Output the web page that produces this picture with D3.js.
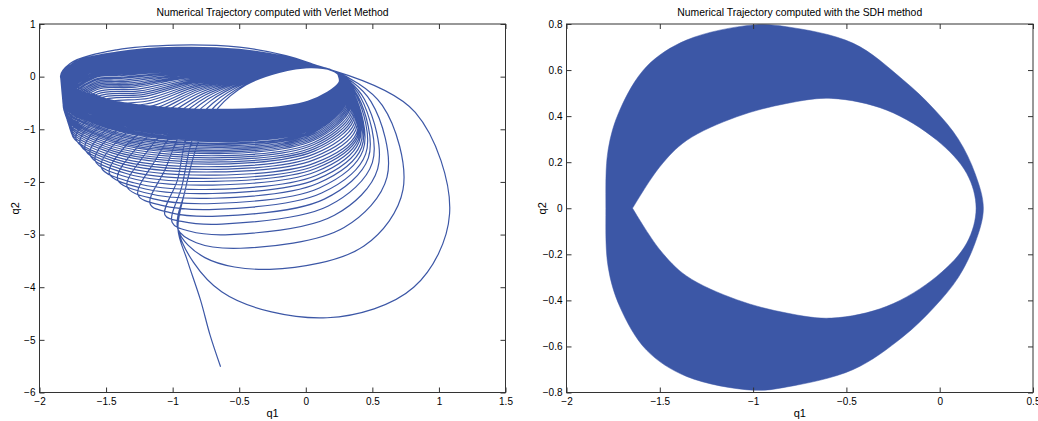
<!DOCTYPE html>
<html>
<head>
<meta charset="utf-8">
<script src="https://cdn.jsdelivr.net/npm/d3@7/dist/d3.min.js"></script>
<style>
  body { margin: 0; background: #fff; }
  svg text { font-family: "Liberation Sans", Arial, Helvetica, sans-serif; fill: #000; }
</style>
</head>
<body>
<svg id="chart" width="1038" height="421"></svg>
<script>
// ---------- values ----------
var verletTitle = "Numerical Trajectory computed with Verlet Method";
var sdhTitle = "Numerical Trajectory computed with the SDH method";
var verletXTicks = [-2, -1.5, -1, -0.5, 0, 0.5, 1, 1.5];
var verletYTicks = [-6, -5, -4, -3, -2, -1, 0, 1];
var sdhXTicks = [-2, -1.5, -1, -0.5, 0, 0.5];
var sdhYTicks = [-0.8, -0.6, -0.4, -0.2, 0, 0.2, 0.4, 0.6, 0.8];

// Verlet: the loose end of the trajectory (bottom)
var tailQ1 = [-0.64, -0.72, -0.79, -0.89];
var tailQ2 = [-5.51, -4.90, -4.25, -3.49];
// left envelope of the loops, from the left tip down to the crossing point
var envQ1 = [-1.84, -1.82, -1.76, -1.54, -1.29, -1.04, -0.96];
var envQ2 = [-0.03, -0.60, -1.08, -1.71, -2.19, -2.66, -2.90];
// upper arcs: outer edge of the band, a flat middle one, and the edge of the white hole
var highArcQ1 = [-1.42, -0.97, -0.50, -0.15, 0.05];
var highArcQ2 = [0.51, 0.60, 0.56, 0.40, 0.24];
var midArcQ1 = [-1.40, -0.95, -0.50, -0.18, 0.05];
var midArcQ2 = [0.05, 0.12, 0.10, 0.19, 0.21];
var holeArcQ1 = [-0.80, -0.66, -0.45, -0.20, 0.03];
var holeArcQ2 = [-1.20, -0.60, -0.16, 0.08, 0.17];

// one entry per loop, biggest loop first
var loopBottom = [-4.58, -3.66, -3.26, -3.00, -2.80, -2.65, -2.52, -2.41, -2.31, -2.22,
  -2.14, -2.06, -1.99, -1.93, -1.87, -1.81, -1.76, -1.71, -1.66, -1.62,
  -1.58, -1.54, -1.50, -1.46, -1.43, -1.40, -1.37, -1.34, -1.31, -1.28,
  -1.26, -1.23, -1.21, -1.19, -1.17, -1.15, -1.13, -1.11, -1.09, -1.07,
  -1.05, -1.04, -1.03, -1.02, -1.01, -1.00, -0.99, -0.98, -0.97, -0.96,
  -0.95, -0.94, -0.93, -0.92, -0.91, -0.90, -0.89, -0.88, -0.87, -0.86,
  -0.85, -0.84, -0.83, -0.82, -0.81, -0.80, -0.79, -0.78, -0.77, -0.76,
  -0.75, -0.74, -0.73, -0.72, -0.71, -0.70, -0.695, -0.69, -0.685, -0.68,
  -0.675, -0.67, -0.665, -0.66, -0.655, -0.65, -0.645, -0.64, -0.64, -0.635,
  -0.635, -0.63, -0.63, -0.625, -0.625, -0.62, -0.62, -0.62, -0.62, -0.62];
var loopBottomQ1 = [0.16, -0.27, -0.49, -0.57, -0.63, -0.66, -0.68, -0.69, -0.70, -0.70,
  -0.70, -0.70, -0.69, -0.69, -0.68, -0.68, -0.67, -0.66, -0.65, -0.64,
  -0.63, -0.62, -0.61, -0.60, -0.59, -0.58, -0.57, -0.56, -0.55, -0.54,
  -0.53, -0.52, -0.51, -0.50, -0.50, -0.49, -0.49, -0.48, -0.48, -0.47,
  -0.47, -0.47, -0.47, -0.47, -0.47, -0.47, -0.47, -0.47, -0.47, -0.47,
  -0.48, -0.48, -0.48, -0.48, -0.48, -0.48, -0.48, -0.48, -0.48, -0.48,
  -0.50, -0.50, -0.50, -0.50, -0.50, -0.50, -0.50, -0.50, -0.50, -0.50,
  -0.52, -0.52, -0.52, -0.52, -0.52, -0.52, -0.52, -0.52, -0.52, -0.52,
  -0.54, -0.54, -0.54, -0.54, -0.54, -0.54, -0.54, -0.54, -0.54, -0.54,
  -0.55, -0.55, -0.55, -0.55, -0.55, -0.55, -0.55, -0.55, -0.55, -0.55];
var loopRight = [1.08, 0.73, 0.61, 0.54, 0.50, 0.47, 0.45, 0.43, 0.42, 0.41,
  0.40, 0.395, 0.39, 0.385, 0.38, 0.375, 0.37, 0.365, 0.36, 0.355,
  0.35, 0.345, 0.34, 0.335, 0.33, 0.325, 0.32, 0.315, 0.31, 0.31,
  0.305, 0.305, 0.30, 0.30, 0.295, 0.295, 0.29, 0.29, 0.285, 0.285,
  0.28, 0.28, 0.28, 0.28, 0.275, 0.275, 0.275, 0.275, 0.27, 0.27,
  0.27, 0.27, 0.27, 0.27, 0.265, 0.265, 0.265, 0.265, 0.265, 0.265,
  0.26, 0.26, 0.26, 0.26, 0.26, 0.26, 0.26, 0.26, 0.26, 0.26,
  0.255, 0.255, 0.255, 0.255, 0.255, 0.255, 0.255, 0.255, 0.255, 0.255,
  0.25, 0.25, 0.25, 0.25, 0.25, 0.25, 0.25, 0.25, 0.25, 0.25,
  0.25, 0.25, 0.25, 0.25, 0.25, 0.25, 0.25, 0.25, 0.25, 0.25];

// SDH: outer boundary and inner "eye" of the filled band
var sdhOuterQ1 = [-1.789, -1.777, -1.714, -1.571, -1.357, -1.0, -0.82, -0.463, -0.2, -0.03, 0.10, 0.19, 0.234,
  0.19, 0.10, -0.03, -0.2, -0.463, -0.82, -1.0, -1.357, -1.571, -1.714, -1.777];
var sdhOuterQ2 = [0, 0.253, 0.427, 0.615, 0.73, 0.796, 0.788, 0.716, 0.56, 0.43, 0.30, 0.15, 0,
  -0.15, -0.30, -0.43, -0.56, -0.70, -0.776, -0.79, -0.73, -0.616, -0.428, -0.254];
var sdhInnerQ1 = [-1.646, -1.5, -1.357, -1.088, -0.82, -0.579, -0.284, -0.016, 0.145, 0.195,
  0.145, -0.016, -0.284, -0.579, -0.82, -1.088, -1.357, -1.5, -1.646];
var sdhInnerQ2 = [0, 0.18, 0.294, 0.397, 0.455, 0.477, 0.426, 0.296, 0.151, 0,
  -0.151, -0.296, -0.426, -0.477, -0.455, -0.397, -0.294, -0.18, 0];

var blue = "#3c57a6";
var svg = d3.select("#chart");

function drawFrame(g, x, y, xTicks, yTicks, title) {
  var x0 = x.range()[0], x1 = x.range()[1], y0 = y.range()[1], y1 = y.range()[0];
  var fmt = d3.format("~g");
  g.append("g").attr("transform", "translate(0," + y1 + ")")
    .call(d3.axisBottom(x).tickValues(xTicks).tickFormat(fmt).tickSize(-5).tickSizeOuter(0).tickPadding(5));
  g.append("g").attr("transform", "translate(0," + y0 + ")")
    .call(d3.axisTop(x).tickValues(xTicks).tickFormat("").tickSize(-5).tickSizeOuter(0));
  g.append("g").attr("transform", "translate(" + x0 + ",0)")
    .call(d3.axisLeft(y).tickValues(yTicks).tickFormat(fmt).tickSize(-5).tickSizeOuter(0).tickPadding(4));
  g.append("g").attr("transform", "translate(" + x1 + ",0)")
    .call(d3.axisRight(y).tickValues(yTicks).tickFormat("").tickSize(-5).tickSizeOuter(0));
  g.selectAll(".domain").remove();
  g.selectAll(".tick line").attr("stroke", "#333");
  g.selectAll(".tick text").attr("font-size", 10);
  g.append("rect").attr("x", x0).attr("y", y0).attr("width", x1 - x0).attr("height", y1 - y0)
    .attr("fill", "none").attr("stroke", "#333").attr("stroke-width", 1);
  g.append("text").attr("x", (x0 + x1) / 2).attr("y", 16).attr("text-anchor", "middle")
    .attr("font-size", 10.4).text(title);
  g.append("text").attr("x", (x0 + x1) / 2).attr("y", 417).attr("text-anchor", "middle")
    .attr("font-size", 11).text("q1");
  g.append("text").attr("transform", "translate(" + (x0 - 21) + "," + ((y0 + y1) / 2) + ") rotate(-90)")
    .attr("text-anchor", "middle").attr("font-size", 11).text("q2");
}

// ---------- left panel: Verlet ----------
var xV = d3.scaleLinear().domain([-2, 1.5]).range([39.5, 505.5]);
var yV = d3.scaleLinear().domain([-6, 1]).range([392.5, 24]);
var gV = svg.append("g");

var envDomain = envQ1.map(function (d, i) { return i / (envQ1.length - 1); });
var envX = d3.scaleLinear().domain(envDomain).range(envQ1);
var envY = d3.scaleLinear().domain(envDomain).range(envQ2);
// where a loop touches the left envelope, and which upper arc it takes
var sizeOf = d3.scalePow().exponent(1.4).domain([0, 2.29]).range([0, 1]).clamp(true);
var arcOf = d3.scalePow().exponent(0.5).domain([0, 2.33]).range([0, 1]).clamp(true);
var C45 = Math.SQRT1_2;

function lerp(a, b, t) { return a + t * (b - a); }
function arcPoint(j, t) {
  if (t <= 0.5) {
    return [lerp(highArcQ1[j], midArcQ1[j], t * 2), lerp(highArcQ2[j], midArcQ2[j], t * 2)];
  }
  return [lerp(midArcQ1[j], holeArcQ1[j], t * 2 - 1), lerp(midArcQ2[j], holeArcQ2[j], t * 2 - 1)];
}

var pts = tailQ1.map(function (d, i) { return [d, tailQ2[i]]; });
var n = loopBottom.length;
for (var k = 0; k < n; k++) {
  var s = sizeOf(-0.66 - loopBottom[k]);
  var sa = arcOf(-0.62 - loopBottom[k]);
  var P = [envX(s), envY(s)];
  var sn = k < n - 1 ? sizeOf(-0.66 - loopBottom[k + 1]) : s;
  var Pn = [envX(sn), envY(sn)];
  var B = [loopBottomQ1[k], loopBottom[k]];
  var R = loopRight[k];
  var U = [lerp(0.24, 0.20, sa), lerp(0.06, 0.12, sa)];
  var yR = U[1] + (0.25 + 0.35 * Math.min(1, 2.5 * s)) * (B[1] - U[1]);
  if (k === 0) yR = U[1] + 0.58 * (B[1] - U[1]);
  pts.push(P);
  // leave the envelope heading up and to the right
  pts.push([P[0] + lerp(0.07, 0.05, sa) + 0.7 * sa * (1 - sa), P[1] + lerp(0.28, 0.7, sa)]);
  for (var j = 0; j < highArcQ1.length; j++) pts.push(arcPoint(j, sa));
  pts.push(U);
  // quarter arcs: top-right, bottom-right, bottom-left
  pts.push([U[0] + C45 * (R - U[0]), yR + C45 * (U[1] - yR)]);
  pts.push([R, yR]);
  pts.push([B[0] + C45 * (R - B[0]), yR - C45 * (yR - B[1])]);
  pts.push(B);
  pts.push([B[0] - C45 * (B[0] - Pn[0]), Pn[1] - C45 * (Pn[1] - B[1])]);
  if (k === n - 1) pts.push(Pn);
}

gV.append("clipPath").attr("id", "clipV").append("rect")
  .attr("x", 39.5).attr("y", 24).attr("width", 466).attr("height", 368.5);
gV.append("path")
  .attr("clip-path", "url(#clipV)")
  .attr("d", d3.line().x(function (d) { return xV(d[0]); }).y(function (d) { return yV(d[1]); })
    .curve(d3.curveCatmullRom.alpha(0.5))(pts))
  .attr("fill", "none").attr("stroke", blue).attr("stroke-width", 1.2);
drawFrame(gV, xV, yV, verletXTicks, verletYTicks, verletTitle);

// ---------- right panel: SDH ----------
var xS = d3.scaleLinear().domain([-2, 0.5]).range([566.5, 1033]);
var yS = d3.scaleLinear().domain([-0.8, 0.8]).range([392.5, 24]);
var gS = svg.append("g");
var outer = sdhOuterQ1.map(function (d, i) { return [d, sdhOuterQ2[i]]; });
var inner = sdhInnerQ1.map(function (d, i) { return [d, sdhInnerQ2[i]]; });
var lineS = d3.line().x(function (d) { return xS(d[0]); }).y(function (d) { return yS(d[1]); });
var dOuter = lineS.curve(d3.curveCatmullRomClosed.alpha(0.5))(outer);
var dInner = lineS.curve(d3.curveCatmullRom.alpha(0.5))(inner) + "Z";
gS.append("path").attr("d", dOuter + dInner)
  .attr("fill", blue).attr("fill-rule", "evenodd").attr("stroke", blue).attr("stroke-width", 0.5);
drawFrame(gS, xS, yS, sdhXTicks, sdhYTicks, sdhTitle);
</script>
</body>
</html>
